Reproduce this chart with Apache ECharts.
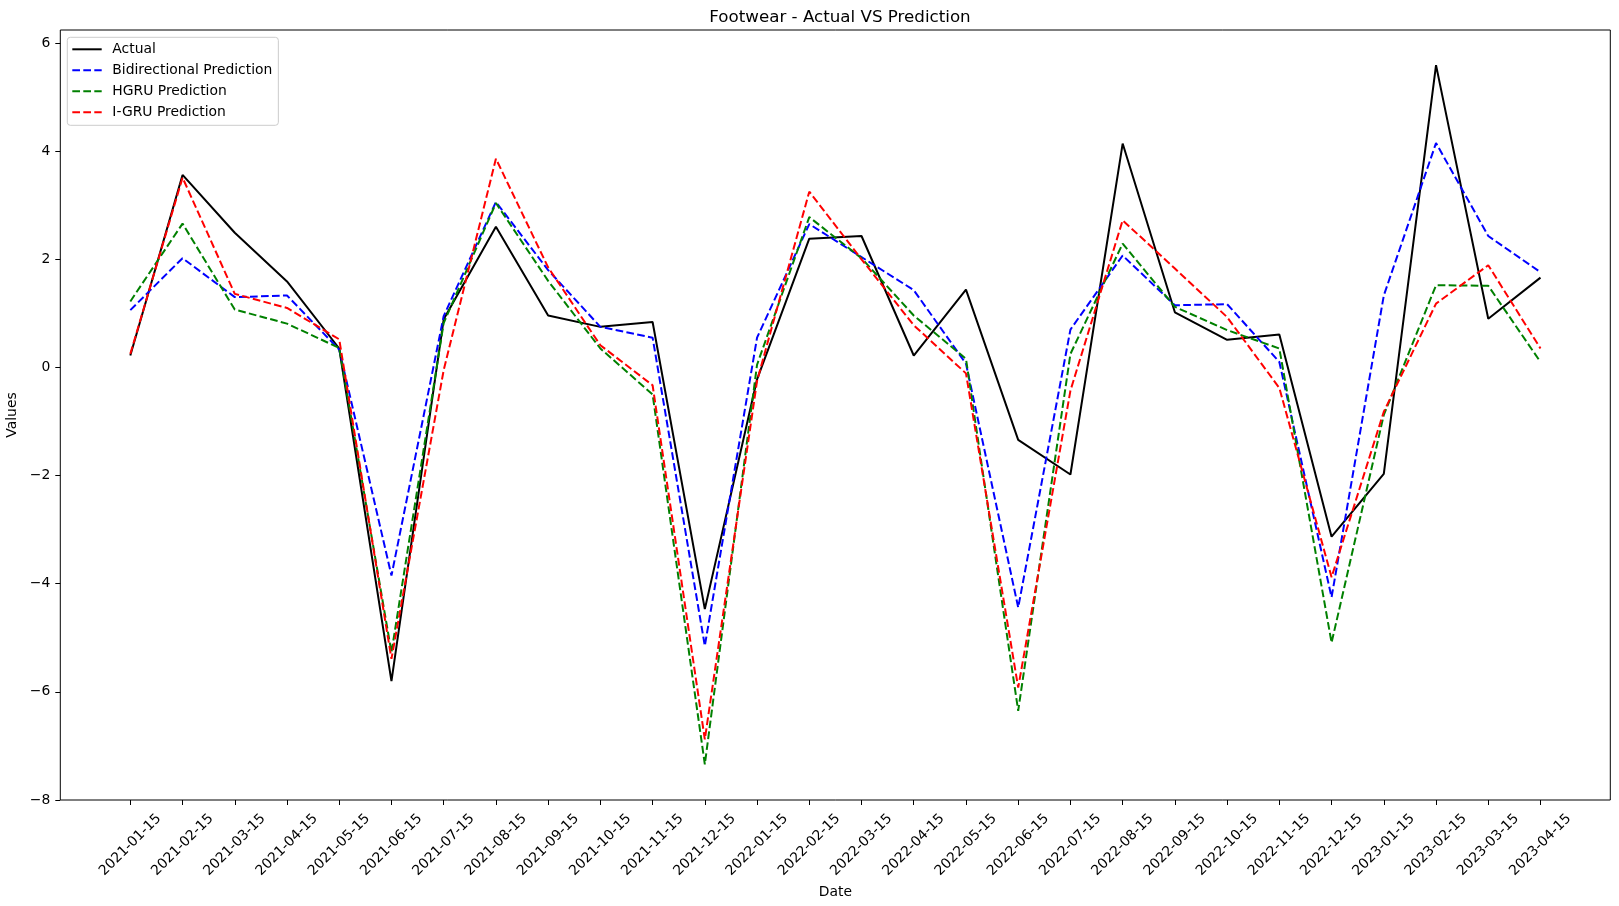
<!DOCTYPE html>
<html>
<head>
<meta charset="utf-8">
<script src="https://cdn.jsdelivr.net/npm/echarts@6/dist/echarts.min.js"></script>
<style>
html,body{margin:0;padding:0;background:#fff;}
#c{width:1619px;height:906px;}
</style>
</head>
<body>
<div id="c"></div>
<script>
const dates = ['2021-01-15','2021-02-15','2021-03-15','2021-04-15','2021-05-15','2021-06-15','2021-07-15','2021-08-15','2021-09-15','2021-10-15','2021-11-15','2021-12-15','2022-01-15','2022-02-15','2022-03-15','2022-04-15','2022-05-15','2022-06-15','2022-07-15','2022-08-15','2022-09-15','2022-10-15','2022-11-15','2022-12-15','2023-01-15','2023-02-15','2023-03-15','2023-04-15'];
const actual = [0.22,3.56,2.49,1.59,0.35,-5.80,0.89,2.60,0.96,0.75,0.84,-4.47,-0.22,2.38,2.43,0.22,1.44,-1.34,-1.98,4.14,1.02,0.51,0.61,-3.13,-1.97,5.59,0.90,1.66];
const bidirectional = [1.06,2.02,1.30,1.33,0.33,-3.85,0.95,3.06,1.80,0.75,0.55,-5.15,0.55,2.65,2.04,1.43,0.07,-4.44,0.70,2.07,1.15,1.17,0.10,-4.25,1.33,4.15,2.43,1.76];
const hgru = [1.22,2.66,1.07,0.81,0.36,-5.27,0.82,3.04,1.60,0.35,-0.50,-7.34,0.05,2.78,2.02,0.96,0.16,-6.35,0.25,2.29,1.12,0.69,0.35,-5.09,-0.88,1.52,1.51,0.10];
const igru = [0.25,3.51,1.36,1.10,0.52,-5.39,-0.05,3.86,1.85,0.41,-0.33,-6.88,-0.25,3.25,2.00,0.78,-0.11,-5.92,-0.43,2.72,1.83,0.93,-0.38,-3.88,-0.82,1.18,1.89,0.35];
const yTicks = {min: -8, max: 6.24, interval: 2};

const FONT = 'DejaVu Sans';
const dash = [7.7, 3.3];
const chart = echarts.init(document.getElementById('c'), null, {renderer: 'canvas'});
const mk = (name, data, color, type) => ({
  name, type: 'line', data, symbol: 'none', showSymbol: false,
  xAxisIndex: 0, yAxisIndex: 0,
  lineStyle: {color, width: 2, type},
  itemStyle: {color},
  emphasis: {disabled: true}
});
chart.setOption({
  animation: false,
  backgroundColor: '#fff',
  title: {
    text: 'Footwear - Actual VS Prediction',
    left: 835, textAlign: 'center', top: 4,
    textStyle: {fontFamily: FONT, fontSize: 16.7, fontWeight: 'normal', color: '#000'}
  },
  legend: {
    orient: 'vertical', left: 67.3, top: 37.3,
    padding: [5, 6, 6, 4],
    itemWidth: 29.4, itemHeight: 14, itemGap: 7,
    borderColor: '#cccccc', borderWidth: 1, borderRadius: 3,
    backgroundColor: 'rgba(255,255,255,0.8)',
    itemStyle: {opacity: 0},
    textStyle: {fontFamily: FONT, fontSize: 13.9, color: '#000', padding: [0,0,0,5.6]},
    data: ['Actual','Bidirectional Prediction','HGRU Prediction','I-GRU Prediction']
  },
  grid: [
    {left: 104.2, right: 52.4, top: 30, bottom: 106, outerBoundsMode: 'none', containLabel: false},
    {left: 60.3, right: 8.7, top: 30, bottom: 106, show: true, borderColor: '#000', borderWidth: 1, backgroundColor: 'transparent', outerBoundsMode: 'none', containLabel: false, z: 1}
  ],
  xAxis: [
    {
      type: 'category', data: dates, boundaryGap: true, gridIndex: 0,
      axisLine: {show: false, onZero: false},
      axisTick: {show: true, alignWithLabel: true, length: 5, lineStyle: {color: '#000', width: 1}},
      axisLabel: {interval: 0, rotate: 45, align: 'center', verticalAlign: 'middle', margin: 45,
        fontFamily: FONT, fontSize: 13.9, color: '#000'},
      splitLine: {show: false},
      name: 'Date', nameLocation: 'middle', nameGap: 78,
      nameTextStyle: {fontFamily: FONT, fontSize: 13.9, color: '#000'}
    },
    {type: 'value', gridIndex: 1, show: false}
  ],
  yAxis: [
    {
      type: 'value', gridIndex: 0, min: yTicks.min, max: yTicks.max, interval: yTicks.interval,
      offset: 43.9,
      axisLine: {show: false, onZero: false},
      axisTick: {show: true, length: 5, lineStyle: {color: '#000', width: 1}},
      axisLabel: {margin: 10, showMaxLabel: false, fontFamily: FONT, fontSize: 13.9, color: '#000',
        formatter: v => (Math.abs(v - Math.round(v)) > 1e-6 ? '' : String(v).replace('-', '\u2212'))},
      splitLine: {show: false},
      name: 'Values', nameLocation: 'middle', nameGap: 32, nameRotate: 90,
      nameTextStyle: {fontFamily: FONT, fontSize: 13.9, color: '#000'}
    },
    {type: 'value', gridIndex: 1, show: false}
  ],
  series: [
    mk('Actual', actual, '#000000', 'solid'),
    mk('Bidirectional Prediction', bidirectional, '#0000ff', dash),
    mk('HGRU Prediction', hgru, '#008000', dash),
    mk('I-GRU Prediction', igru, '#ff0000', dash)
  ]
});
</script>
</body>
</html>
